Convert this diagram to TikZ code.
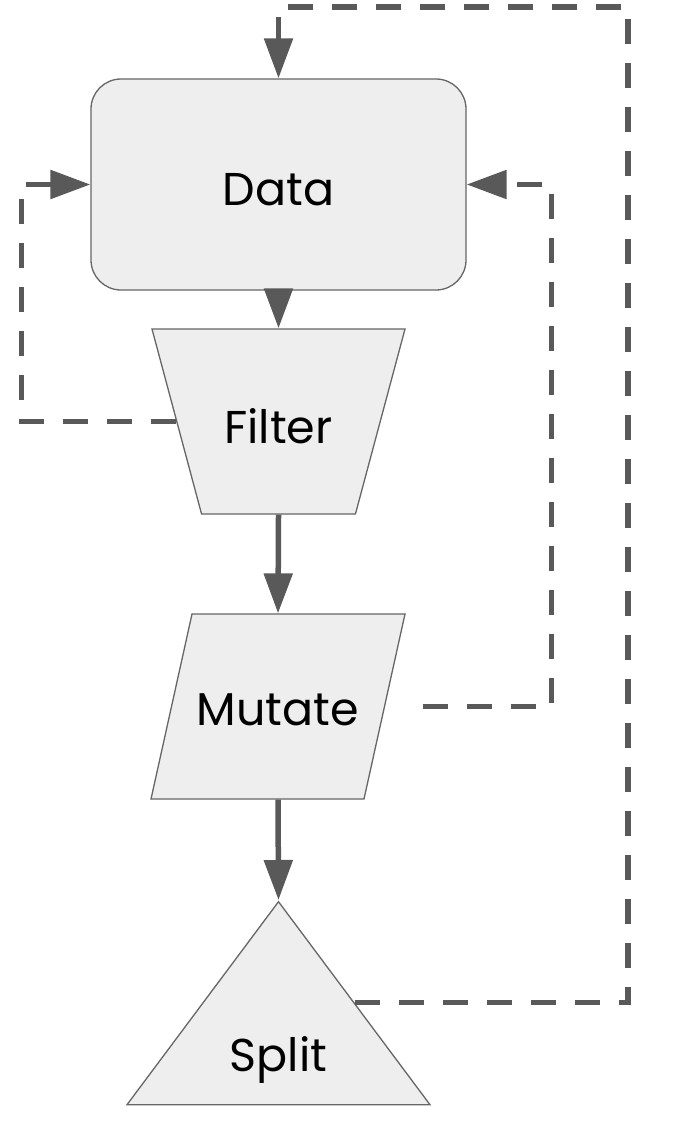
\documentclass[tikz,border=0pt]{standalone}
\usepackage{fontspec}
\setmainfont{Poppins}
\usetikzlibrary{shapes.geometric,arrows.meta,calc}

\definecolor{boxfill}{HTML}{EEEEEE}
\definecolor{boxline}{HTML}{666666}
\definecolor{flowline}{HTML}{595959}

\tikzset{
    block/.style={draw=boxline, fill=boxfill, line width=1.3pt, inner sep=0pt, font=\fontsize{46}{50}\selectfont},
    flow/.style={draw=flowline, line width=5.5pt, -{Triangle[length=40pt, width=28pt]}},
    feedback/.style={flow, dash pattern=on 25pt off 19pt}
}

\begin{document}
\begin{tikzpicture}[x=1pt, y=-1pt]
        \useasboundingbox (0,0) rectangle (683,1121);
        \node [block, rectangle, rounded corners=30pt, minimum width=375pt, minimum height=211pt, text height=41pt, text depth=0pt] (data) at (278.5,184.5) {Data};
        \node [block, trapezium, trapezium left angle=75, trapezium right angle=75, trapezium stretches body=true, shape border rotate=180, minimum width=253pt, text height=114pt, text depth=71pt] (filter) at (278.5,421.5) {Filter};
        \node [block, trapezium, trapezium left angle=77.5, trapezium right angle=102.5, trapezium stretches body=true, minimum width=254pt, text height=111pt, text depth=74pt] (mutate) at (278,706.5) {Mutate};
        \node [block, isosceles triangle, isosceles triangle stretches=true, shape border rotate=90, minimum width=303pt, minimum height=203pt, text height=49pt, text depth=0pt, anchor=apex] (split) at (278.5,900) {Split};

        \draw [flow] (data.south) -- (filter.north);
        \draw [flow] (filter.south) -- (mutate.north);
        \draw [flow] (mutate.south) -- (split.apex);

        \draw [feedback] (filter.west) -| ([xshift=-69pt]data.west) -- (data.west);
        \draw [feedback] ([xshift=38pt]mutate.east) -| ([xshift=85pt]data.east) -- (data.east);
        \draw [feedback] ($(split.apex)!0.5!(split.right corner)$) -| (628,7) -| (data.north);
    \end{tikzpicture}
\end{document}
